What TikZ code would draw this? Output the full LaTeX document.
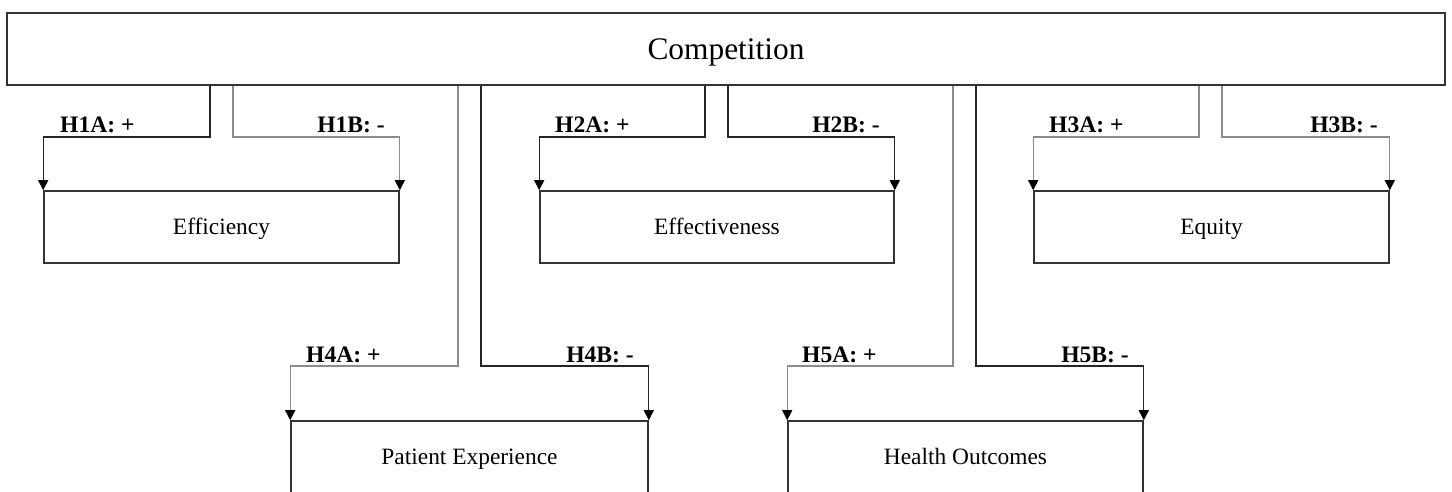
\documentclass[tikz,border=0pt]{standalone}
\usepackage{fontspec}
\setmainfont{Liberation Serif}
\usetikzlibrary{arrows.meta}
\begin{document}
\begin{tikzpicture}[x=1pt,y=-1pt,
  box/.style={draw=black!80, line width=1.6pt, minimum height=72pt, inner sep=0pt,
              text height=15pt, text depth=0pt,
              font=\fontsize{23.4}{28}\selectfont},
  link/.style={line width=1.2pt, draw=black!85,
               -{Triangle[length=10pt,width=10pt,color=black]}},
  linklight/.style={link, draw=black!45},
  hyp/.style={font=\fontsize{23.6}{28}\bfseries\selectfont, inner sep=0pt, anchor=base west},
  hypr/.style={hyp, anchor=base east}]
  \useasboundingbox (0,0) rectangle (1452,492);

  % top node
  \node[box, minimum width=1438pt, text height=22pt,
        font=\fontsize{31.4}{36}\selectfont] (comp) at (726,49) {Competition};

  % outcome nodes
  \node[box, minimum width=355pt] (eff) at (221.5,227) {Efficiency};
  \node[box, minimum width=354pt] (effv) at (717,227) {Effectiveness};
  \node[box, minimum width=355pt] (equ) at (1211.5,227) {Equity};
  \node[box, minimum width=357pt] (pat) at (469.5,457) {Patient Experience};
  \node[box, minimum width=355pt] (hea) at (965.5,457) {Health Outcomes};

  % H1
  \draw[link] (comp.south -| 210,0) -- (210,137) -| (eff.north west);
  \draw[linklight] (comp.south -| 233,0) -- (233,137) -| (eff.north east);
  \node[hyp] (h1a) at (60,133) {H1A: +};
  \node[hypr] (h1b) at (385,133) {H1B: -};

  % H2
  \draw[link] (comp.south -| 705,0) -- (705,137) -| (effv.north west);
  \draw[link] (comp.south -| 728,0) -- (728,137) -| (effv.north east);
  \node[hyp] (h2a) at (555,133) {H2A: +};
  \node[hypr] (h2b) at (880,133) {H2B: -};

  % H3
  \draw[linklight] (comp.south -| 1199,0) -- (1199,137) -| (equ.north west);
  \draw[linklight] (comp.south -| 1222,0) -- (1222,137) -| (equ.north east);
  \node[hyp] (h3a) at (1049,133) {H3A: +};
  \node[hypr] (h3b) at (1378,133) {H3B: -};

  % H4
  \draw[linklight] (comp.south -| 458,0) -- (458,366) -| (pat.north west);
  \draw[link] (comp.south -| 481,0) -- (481,366) -| (pat.north east);
  \node[hyp] (h4a) at (306,362) {H4A: +};
  \node[hypr] (h4b) at (634,362) {H4B: -};

  % H5
  \draw[linklight] (comp.south -| 953,0) -- (953,366) -| (hea.north west);
  \draw[link] (comp.south -| 976,0) -- (976,366) -| (hea.north east);
  \node[hyp] (h5a) at (802,362) {H5A: +};
  \node[hypr] (h5b) at (1129,362) {H5B: -};
\end{tikzpicture}
\end{document}
